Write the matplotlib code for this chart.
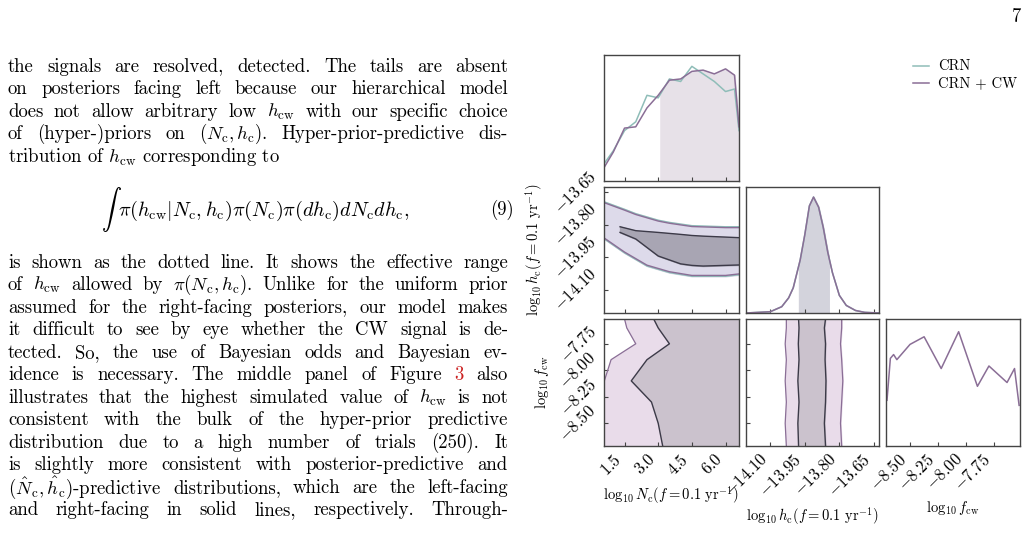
import matplotlib
matplotlib.use("Agg")
import matplotlib.pyplot as plt
import numpy as np

plt.rcParams['mathtext.fontset'] = 'cm'
plt.rcParams['font.family'] = ['cmr10', 'DejaVu Serif']
plt.rcParams['axes.unicode_minus'] = False

TEAL = '#8fbdb8'
PURP = '#8a6e96'

# ---- data ----
nc_x = [0.6, 1.0, 1.5, 2.0, 2.5, 3.0, 3.5, 4.0, 4.5, 5.0, 5.5, 6.0, 6.4, 6.6]
nc_crn = [0.14, 0.24, 0.40, 0.47, 0.68, 0.66, 0.81, 0.79, 0.91, 0.85, 0.79, 0.71, 0.73, 0.40]
nc_cw = [0.11, 0.23, 0.42, 0.43, 0.58, 0.68, 0.80, 0.81, 0.87, 0.88, 0.85, 0.89, 0.84, 0.43]
nc_shade_lo = 3.1

band_x = [0.6, 1.5, 2.0, 2.5, 3.0, 3.5, 4.5, 6.0, 6.6]
outer_hi = [-13.696, -13.73, -13.75, -13.765, -13.78, -13.79, -13.805, -13.81, -13.81]
outer_lo = [-13.866, -13.93, -13.96, -13.99, -14.005, -14.02, -14.037, -14.037, -14.03]
inner_x = [1.3, 2.0, 3.0, 4.0, 4.5, 5.0, 6.6]
inner_hi = [-13.81, -13.828, -13.836, -13.845, -13.85, -13.853, -13.86]
inner_lo = [-13.836, -13.866, -13.944, -13.98, -13.987, -13.99, -13.985]

hc_x = [-14.205, -14.10, -14.05, -14.02, -14.0, -13.97, -13.95, -13.93, -13.912, -13.89, -13.87, -13.85, -13.83, -13.80, -13.77, -13.73, -13.69, -13.628]
hc_y = [0.0, 0.01, 0.05, 0.12, 0.2, 0.42, 0.62, 0.85, 0.92, 0.84, 0.68, 0.48, 0.32, 0.14, 0.06, 0.02, 0.005, 0.0]
hc_shade = (-13.975, -13.846)

f_grid = [-8.715, -8.5, -8.3, -8.1, -7.9, -7.75, -7.6, -7.516]
f_outer_left = [0.6, 0.6, 0.6, 0.6, 0.9, 2.0, 1.6, 1.5]
f_inner_left = [3.2, 3.0, 2.7, 1.8, 2.5, 3.5, 3.0, 2.8]
hf_outer = ([-14.03, -14.035, -14.03, -14.035, -14.03, -14.035, -14.03, -14.03],
            [-13.79, -13.795, -13.79, -13.785, -13.79, -13.795, -13.79, -13.79])
hf_inner = ([-13.977, -13.98, -13.975, -13.98, -13.975, -13.978, -13.975, -13.977],
            [-13.86, -13.865, -13.86, -13.858, -13.862, -13.86, -13.865, -13.86])

fcw_x = [-8.706, -8.676, -8.647, -8.618, -8.5, -8.374, -8.221, -8.065, -7.897, -7.794, -7.632, -7.565, -7.524]
fcw_y = [0.36, 0.69, 0.72, 0.68, 0.80, 0.86, 0.61, 0.90, 0.47, 0.63, 0.50, 0.61, 0.32]

nc_lim = (0.585, 6.6)
hc_lim = (-14.205, -13.628)
f_lim = (-8.715, -7.516)
nc_ticks = [1.5, 3.0, 4.5, 6.0]
hc_ticks = [-14.10, -13.95, -13.80, -13.65]
f_ticks = [-8.50, -8.25, -8.00, -7.75]

W, H = 1029, 539
fig = plt.figure(figsize=(W / 100, H / 100), dpi=100)

def ax_px(x0, y0, x1, y1):
    return fig.add_axes([x0 / W, 1 - y1 / H, (x1 - x0) / W, (y1 - y0) / H])

cols = [(604, 739), (746, 879), (886, 1020)]
rows = [(55, 181), (187, 313), (319, 446)]
TS = 12
LS = 10.5

def style(ax):
    for s in ax.spines.values():
        s.set_color('#444444'); s.set_linewidth(1.0)
    ax.tick_params(direction='in', length=3, labelsize=TS, color='#444444')

# top-left
a = ax_px(cols[0][0], rows[0][0], cols[0][1], rows[0][1]); style(a)
xs = np.array(nc_x); ycw = np.array(nc_cw)
m = xs >= nc_shade_lo
a.fill_between(np.r_[nc_shade_lo, xs[m]], np.r_[np.interp(nc_shade_lo, xs, ycw), ycw[m]], color='#e7e1e8')
a.plot(nc_x, nc_crn, color=TEAL, lw=1.1)
a.plot(nc_x, nc_cw, color=PURP, lw=1.1)
a.set_xlim(nc_lim); a.set_ylim(0, 1); a.set_xticks(nc_ticks); a.set_xticklabels([]); a.set_yticks([])

# row2 col1
a = ax_px(cols[0][0], rows[1][0], cols[0][1], rows[1][1]); style(a)
a.fill_between(band_x, outer_lo, outer_hi, color='#dddaea')
a.plot(band_x, outer_hi, color=TEAL, lw=1); a.plot(band_x, outer_lo, color=TEAL, lw=1)
a.plot(band_x, np.array(outer_hi) - 0.004, color=PURP, lw=1); a.plot(band_x, np.array(outer_lo) + 0.004, color=PURP, lw=1)
a.fill_between(inner_x, inner_lo, inner_hi, color='#a8a5b3')
a.plot(inner_x, inner_hi, color='#3c3a48', lw=1); a.plot(inner_x, inner_lo, color='#3c3a48', lw=1)
a.set_xlim(nc_lim); a.set_ylim(hc_lim); a.set_xticks(nc_ticks); a.set_xticklabels([])
a.set_yticks(hc_ticks); a.set_yticklabels(['$%.2f$' % t for t in hc_ticks], rotation=45, va='center')
a.set_ylabel(r'$\log_{10} h_{\rm c}(f = 0.1\ {\rm yr}^{-1})$', fontsize=LS)

# row2 col2
a = ax_px(cols[1][0], rows[1][0], cols[1][1], rows[1][1]); style(a)
hx = np.array(hc_x); hy = np.array(hc_y)
mm = (hx > hc_shade[0]) & (hx < hc_shade[1])
sx = np.r_[hc_shade[0], hx[mm], hc_shade[1]]
a.fill_between(sx, np.interp(sx, hx, hy), color='#d3d3dc')
a.plot(hc_x, hc_y, color=TEAL, lw=1.1); a.plot(hc_x, hc_y, color=PURP, lw=1.1)
a.set_xlim(hc_lim); a.set_ylim(0, 1); a.set_xticks(hc_ticks); a.set_xticklabels([]); a.set_yticks([])

# row3 col1
a = ax_px(cols[0][0], rows[2][0], cols[0][1], rows[2][1]); style(a)
a.fill_betweenx(f_grid, f_outer_left, nc_lim[1], color='#e9dcea')
a.plot(f_outer_left, f_grid, color=PURP, lw=0.9)
a.fill_betweenx(f_grid, f_inner_left, nc_lim[1], color='#cbc2cd')
a.plot(f_inner_left, f_grid, color='#3c3a48', lw=1)
a.set_xlim(nc_lim); a.set_ylim(f_lim)
a.set_xticks(nc_ticks); a.set_xticklabels(['$%.1f$' % t for t in nc_ticks], rotation=45, ha='right', va='top')
a.set_yticks(f_ticks); a.set_yticklabels(['$%.2f$' % t for t in f_ticks], rotation=45, va='center')
a.set_xlabel(r'$\log_{10} N_{\rm c}(f = 0.1\ {\rm yr}^{-1})$', fontsize=LS)
a.set_ylabel(r'$\log_{10} f_{\rm cw}$', fontsize=LS)

# row3 col2
a = ax_px(cols[1][0], rows[2][0], cols[1][1], rows[2][1]); style(a)
a.fill_betweenx(f_grid, hf_outer[0], hf_outer[1], color='#e9dcea')
a.plot(hf_outer[0], f_grid, color=PURP, lw=0.9); a.plot(hf_outer[1], f_grid, color=PURP, lw=0.9)
a.fill_betweenx(f_grid, hf_inner[0], hf_inner[1], color='#cbc2cd')
a.plot(hf_inner[0], f_grid, color='#3c3a48', lw=1); a.plot(hf_inner[1], f_grid, color='#3c3a48', lw=1)
a.set_xlim(hc_lim); a.set_ylim(f_lim)
a.set_xticks(hc_ticks); a.set_xticklabels(['$%.2f$' % t for t in hc_ticks], rotation=45, ha='right', va='top')
a.set_yticks(f_ticks); a.set_yticklabels([])
a.set_xlabel(r'$\log_{10} h_{\rm c}(f = 0.1\ {\rm yr}^{-1})$', fontsize=LS)

# row3 col3
a = ax_px(cols[2][0], rows[2][0], cols[2][1], rows[2][1]); style(a)
a.plot(fcw_x, fcw_y, color=PURP, lw=1.1)
a.set_xlim(f_lim); a.set_ylim(0, 1); a.set_yticks([])
a.set_xticks(f_ticks); a.set_xticklabels(['$%.2f$' % t for t in f_ticks], rotation=45, ha='right', va='top')
a.set_xlabel(r'$\log_{10} f_{\rm cw}$', fontsize=LS)

# legend
fig.lines.append(plt.Line2D([913 / W, 929 / W], [1 - 66 / H] * 2, color=TEAL, lw=1.1, transform=fig.transFigure))
fig.lines.append(plt.Line2D([913 / W, 929 / W], [1 - 83 / H] * 2, color=PURP, lw=1.1, transform=fig.transFigure))
fig.text(938 / W, 1 - 66 / H, 'CRN', fontsize=10.5, va='center')
fig.text(938 / W, 1 - 83 / H, 'CRN + CW', fontsize=10.5, va='center')

# page text
FS = 13.5
fig.text(1012 / W, 1 - 17 / H, '7', fontsize=FS, va='center')
lines = [
    (67, r'the signals are resolved, detected. The tails are absent', True),
    (89, r'on posteriors facing left because our hierarchical model', True),
    (112, r'does not allow arbitrary low $h_\mathrm{cw}$ with our specific choice', True),
    (134, r'of (hyper-)priors on $(N_\mathrm{c},h_\mathrm{c})$. Hyper-prior-predictive dis-', True),
    (157, r'tribution of $h_\mathrm{cw}$ corresponding to', False),
    (263, r'is shown as the dotted line. It shows the effective range', True),
    (285, r'of $h_\mathrm{cw}$ allowed by $\pi(N_\mathrm{c},h_\mathrm{c})$. Unlike for the uniform prior', True),
    (308, r'assumed for the right-facing posteriors, our model makes', True),
    (330, r'it difficult to see by eye whether the CW signal is de-', True),
    (353, r'tected. So, the use of Bayesian odds and Bayesian ev-', True),
    (375, r'idence is necessary. The middle panel of Figure 3 also', True),
    (398, r'illustrates that the highest simulated value of $h_\mathrm{cw}$ is not', True),
    (420, r'consistent with the bulk of the hyper-prior predictive', True),
    (443, r'distribution due to a high number of trials (250). It', True),
    (465, r'is slightly more consistent with posterior-predictive and', True),
    (488, r'$(\hat{N}_\mathrm{c},\hat{h}_\mathrm{c})$-predictive distributions, which are the left-facing', True),
    (510, r'and right-facing in solid lines, respectively. Through-', True),
]
renderer = fig.canvas.get_renderer()
X0, X1 = 8, 508
for y, s, just in lines:
    words = s.split(' ')
    if not just:
        fig.text(X0 / W, 1 - y / H, s, fontsize=FS, va='center')
        continue
    ts = [fig.text(0, 1 - y / H, wd, fontsize=FS, va='center') for wd in words]
    ws = [t.get_window_extent(renderer).width for t in ts]
    gap = (X1 - X0 - sum(ws)) / max(len(ws) - 1, 1)
    x = X0
    for t, w in zip(ts, ws):
        if 'Figure' in t.get_text() or t.get_text() == '3':
            pass
        t.set_x(x / W)
        x += w + gap
    for t in ts:
        if t.get_text() == '3':
            t.set_color('#cc2222')
fig.text(255 / W, 1 - 210 / H, r'$\int\ \pi(h_\mathrm{cw}|N_\mathrm{c}, h_\mathrm{c})\pi(N_\mathrm{c})\pi(dh_\mathrm{c})dN_\mathrm{c}dh_\mathrm{c},$',
         fontsize=14.5, va='center', ha='center')
fig.text(490 / W, 1 - 210 / H, '(9)', fontsize=FS, va='center')

fig.savefig('out.png', dpi=100)
